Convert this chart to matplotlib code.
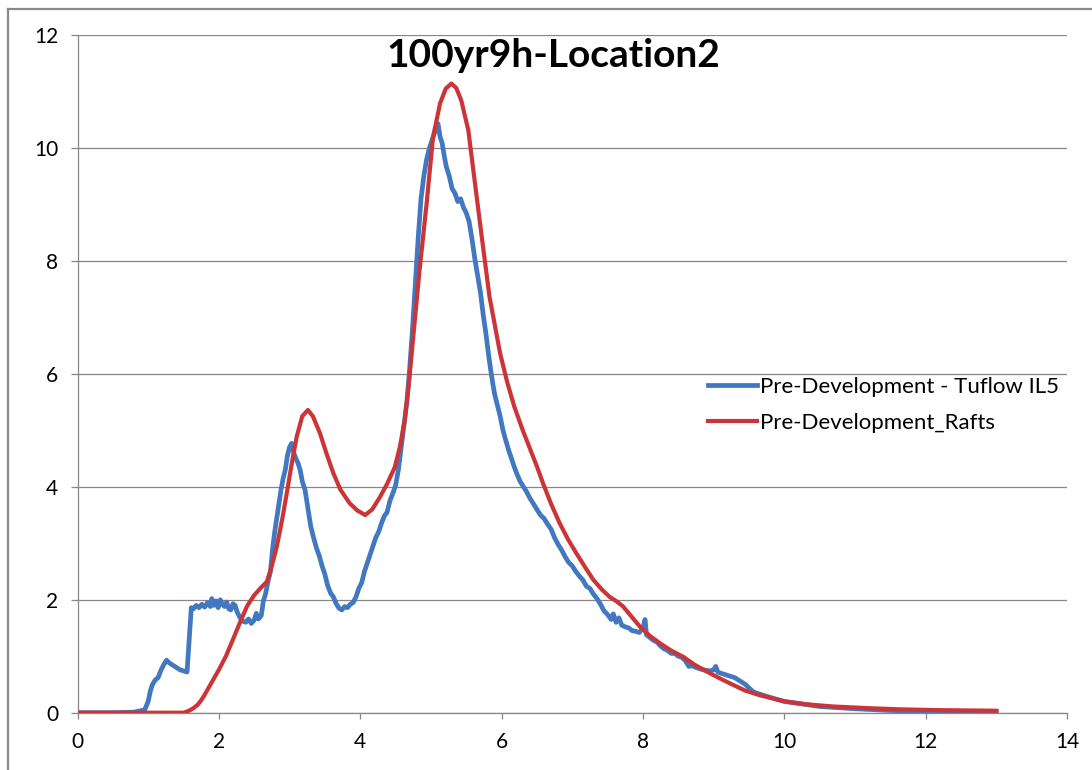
import matplotlib.pyplot as plt
from matplotlib.lines import Line2D

# hydrograph values (time in hours, flow)
tuflow_t = [0, 0.5, 0.8, 0.95, 1.0, 1.03, 1.06, 1.1, 1.14, 1.18, 1.22, 1.26, 1.3, 1.35, 1.4, 1.45, 1.5, 1.55,
            1.58, 1.61, 1.64, 1.68, 1.72, 1.76, 1.8, 1.84, 1.88, 1.9, 1.93, 1.96, 1.99, 2.02, 2.05, 2.08, 2.11,
            2.14, 2.17, 2.2, 2.23, 2.26, 2.3, 2.34, 2.38, 2.42, 2.46, 2.5, 2.53, 2.56, 2.6, 2.63, 2.66, 2.7,
            2.73, 2.76, 2.79, 2.82, 2.85, 2.88, 2.91, 2.94, 2.97, 3.0, 3.03, 3.06, 3.09, 3.12, 3.15, 3.18, 3.22,
            3.26, 3.3, 3.34, 3.38, 3.42, 3.46, 3.5, 3.54, 3.58, 3.62, 3.66, 3.7, 3.74, 3.78, 3.82, 3.86, 3.9,
            3.94, 3.98, 4.02, 4.06, 4.1, 4.14, 4.18, 4.22, 4.26, 4.3, 4.34, 4.38, 4.42, 4.46, 4.5, 4.54, 4.58,
            4.62, 4.66, 4.7, 4.74, 4.78, 4.82, 4.86, 4.9, 4.94, 4.98, 5.02, 5.06, 5.1, 5.13, 5.16, 5.19, 5.22,
            5.26, 5.3, 5.34, 5.38, 5.42, 5.46, 5.5, 5.54, 5.58, 5.62, 5.66, 5.7, 5.74, 5.78, 5.82, 5.86, 5.9,
            5.94, 5.98, 6.02, 6.06, 6.1, 6.14, 6.18, 6.22, 6.26, 6.3, 6.35, 6.4, 6.45, 6.5, 6.55, 6.6, 6.65,
            6.7, 6.75, 6.8, 6.85, 6.9, 6.95, 7.0, 7.05, 7.1, 7.15, 7.2, 7.25, 7.3, 7.35, 7.4, 7.45, 7.5, 7.55,
            7.58, 7.62, 7.66, 7.7, 7.75, 7.8, 7.85, 7.9, 7.95, 8.0, 8.03, 8.05, 8.1, 8.15, 8.2, 8.25, 8.3, 8.35,
            8.4, 8.45, 8.5, 8.55, 8.6, 8.65, 8.7, 8.75, 8.8, 8.85, 8.9, 8.95, 9.0, 9.03, 9.06, 9.1, 9.15, 9.2,
            9.25, 9.3, 9.35, 9.4, 9.45, 9.5, 9.55, 9.6, 9.7, 9.8, 10.0, 10.5, 11.0, 11.5, 12.0, 12.5, 13.0]
tuflow_q = [0, 0, 0.01, 0.05, 0.2, 0.38, 0.5, 0.58, 0.62, 0.75, 0.85, 0.93, 0.88, 0.84, 0.8, 0.76, 0.74, 0.72,
            1.3, 1.86, 1.84, 1.9, 1.86, 1.92, 1.87, 1.95, 1.88, 2.02, 1.9, 1.98, 1.86, 2.0, 1.92, 1.88, 1.96,
            1.84, 1.82, 1.93, 1.9, 1.78, 1.68, 1.62, 1.6, 1.66, 1.58, 1.64, 1.76, 1.66, 1.72, 1.98, 2.1, 2.35,
            2.5, 2.9, 3.2, 3.45, 3.7, 3.95, 4.15, 4.3, 4.55, 4.7, 4.77, 4.6, 4.5, 4.42, 4.3, 4.1, 3.94,
            3.62, 3.3, 3.1, 2.92, 2.78, 2.6, 2.45, 2.25, 2.12, 2.05, 1.93, 1.85, 1.82, 1.88, 1.86, 1.92, 1.95,
            2.05, 2.2, 2.3, 2.5, 2.65, 2.8, 2.95, 3.1, 3.2, 3.35, 3.48, 3.55, 3.75, 3.88, 4.02, 4.3, 4.7,
            5.1, 5.5, 6.1, 6.8, 7.6, 8.4, 9.1, 9.5, 9.8, 10.0, 10.15, 10.3, 10.43, 10.2, 10.08, 9.85, 9.66,
            9.5, 9.28, 9.2, 9.05, 9.1, 8.95, 8.85, 8.7, 8.4, 8.05, 7.75, 7.45, 7.05, 6.7, 6.3, 5.95, 5.65,
            5.45, 5.25, 5.0, 4.82, 4.65, 4.5, 4.35, 4.22, 4.1, 4.02, 3.92, 3.8, 3.7, 3.6, 3.5, 3.44, 3.34,
            3.25, 3.1, 2.98, 2.88, 2.76, 2.66, 2.6, 2.5, 2.42, 2.35, 2.24, 2.2, 2.1, 2.02, 1.92, 1.8, 1.74, 1.65,
            1.75, 1.6, 1.68, 1.55, 1.52, 1.5, 1.45, 1.44, 1.42, 1.5, 1.65, 1.38, 1.33, 1.28, 1.25, 1.18, 1.13, 1.1,
            1.05, 1.05, 1.0, 0.98, 0.92, 0.82, 0.83, 0.8, 0.78, 0.76, 0.75, 0.74, 0.76, 0.82, 0.72, 0.7, 0.68, 0.66,
            0.64, 0.62, 0.58, 0.54, 0.5, 0.44, 0.38, 0.35, 0.31, 0.27, 0.2, 0.11, 0.07, 0.04, 0.025, 0.02, 0.015]

rafts_t = [0, 1.5, 1.55, 1.6, 1.65, 1.7, 1.75, 1.8, 1.9, 2.0, 2.1, 2.2, 2.3, 2.4, 2.5, 2.6, 2.68, 2.75, 2.82,
           2.9, 2.96, 3.03, 3.1, 3.18, 3.26, 3.33, 3.43, 3.52, 3.62, 3.72, 3.85, 3.96, 4.07, 4.17, 4.28, 4.38,
           4.49, 4.56, 4.63, 4.69, 4.75, 4.84, 4.94, 5.03, 5.13, 5.21, 5.29, 5.36, 5.43, 5.53, 5.6, 5.72, 5.83,
           5.98, 6.08, 6.18, 6.3, 6.4, 6.5, 6.59, 6.7, 6.82, 6.94, 7.06, 7.18, 7.3, 7.42, 7.53, 7.63, 7.72, 7.84,
           7.96, 8.1, 8.24, 8.4, 8.57, 8.73, 8.9, 9.1, 9.28, 9.45, 9.65, 9.82, 10.0, 10.3, 10.69, 11.2, 11.63,
           12.2, 13.0]
rafts_q = [0, 0, 0.02, 0.05, 0.09, 0.14, 0.22, 0.32, 0.54, 0.76, 1.0, 1.3, 1.6, 1.89, 2.08, 2.22, 2.32, 2.6, 2.94,
           3.45, 3.88, 4.4, 4.88, 5.25, 5.36, 5.25, 4.95, 4.6, 4.24, 3.95, 3.71, 3.58, 3.5, 3.6, 3.82, 4.05,
           4.35, 4.7, 5.18, 5.85, 6.65, 7.84, 9.02, 10.19, 10.79, 11.05, 11.14, 11.06, 10.84, 10.31, 9.61, 8.42, 7.36,
           6.36, 5.85, 5.42, 5.0, 4.68, 4.36, 4.05, 3.7, 3.36, 3.07, 2.82, 2.58, 2.35, 2.18, 2.05, 1.97, 1.88, 1.7,
           1.52, 1.36, 1.23, 1.1, 0.99, 0.85, 0.73, 0.6, 0.49, 0.39, 0.31, 0.26, 0.2, 0.15, 0.11, 0.08, 0.06,
           0.045, 0.035]

x_ticks = [0, 2, 4, 6, 8, 10, 12, 14]
y_ticks = [0, 2, 4, 6, 8, 10, 12]

blue = '#4178c0'
red = '#cc3538'
grey = '#868686'

plt.rcParams['font.family'] = ['Lato', 'DejaVu Sans']

fig = plt.figure(figsize=(10.92, 7.7), dpi=100)
ax = fig.add_axes([77.5 / 1092, 1 - 712.7 / 770, (1067 - 77.5) / 1092, (712.7 - 35) / 770])

ax.plot(tuflow_t, tuflow_q, color=blue, lw=3.4, label='Pre-Development - Tuflow IL5', zorder=3)
ax.plot(rafts_t, rafts_q, color=red, lw=3.0, label='Pre-Development_Rafts', zorder=4)

ax.set_xlim(0, 14)
ax.set_ylim(0, 12)
ax.set_xticks(x_ticks)
ax.set_yticks(y_ticks)
ax.grid(axis='y', color=grey, lw=0.9)
ax.set_axisbelow(True)
for s in ['top', 'right']:
    ax.spines[s].set_visible(False)
for s in ['left', 'bottom']:
    ax.spines[s].set_color(grey)
    ax.spines[s].set_linewidth(0.9)
ax.tick_params(axis='y', direction='out', length=5, width=0.9, color=grey, labelsize=15, pad=9)
ax.tick_params(axis='x', direction='out', length=4, width=0.9, color=grey, labelsize=15, pad=10)

fig.text(553 / 1092, 1 - 66.7 / 770, '100yr9h-Location2', ha='center', va='baseline',
         fontsize=28, fontweight='bold')

fig.legend(loc='upper left', bbox_to_anchor=(708 / 1092, 1 - 377 / 770), frameon=False,
           fontsize=16, handlelength=2.2, handletextpad=0.15, labelspacing=0.7, borderpad=0,
           borderaxespad=0)

# outer chart border (cut off on the right and bottom)
fig.add_artist(Line2D([8 / 1092, 8 / 1092], [0, 1 - 9 / 770], color='#8a8a8a', lw=1.6))
fig.add_artist(Line2D([8 / 1092, 1], [1 - 9 / 770, 1 - 9 / 770], color='#8a8a8a', lw=1.6))

fig.savefig('out.png', dpi=100)
